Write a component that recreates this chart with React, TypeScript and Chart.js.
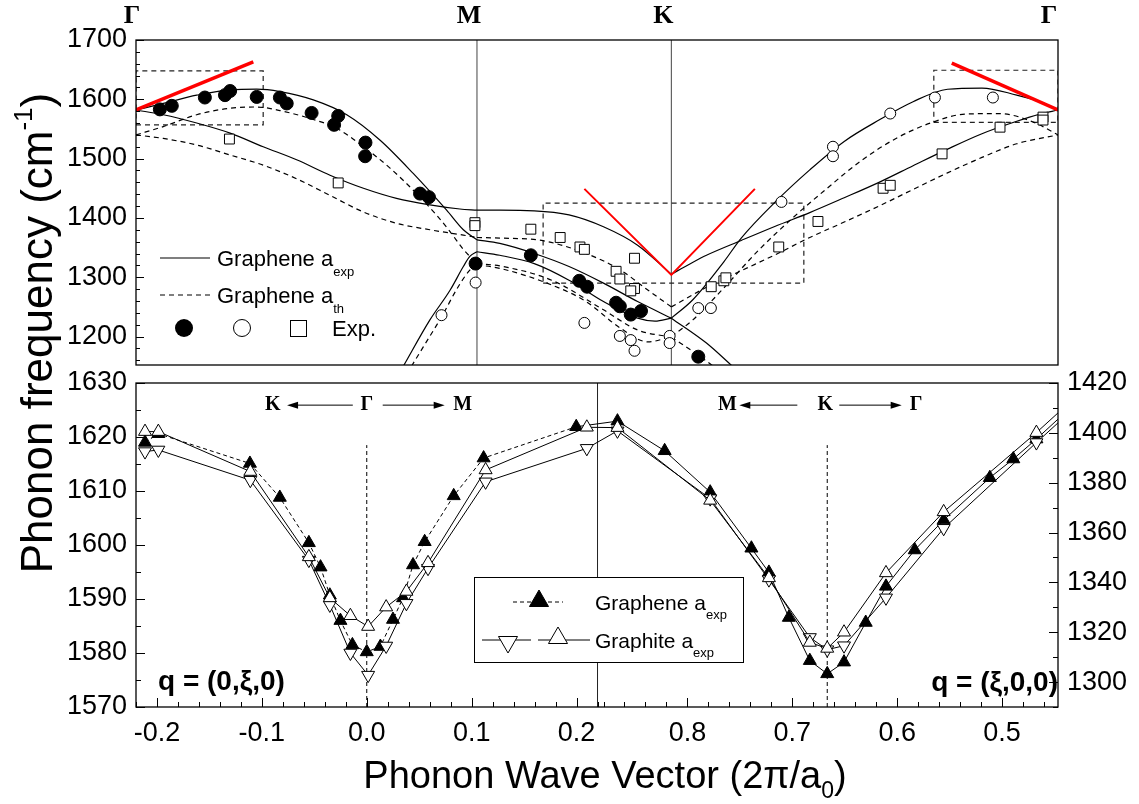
import React, { useEffect, useRef } from 'react';
import { Chart, registerables } from 'chart.js';

Chart.register(...registerables);

const W = 1139;
const H = 804;
const SANS = "'Liberation Sans', Arial, Helvetica, sans-serif";
const SERIF = "'Liberation Serif', 'Times New Roman', serif";
Chart.defaults.font.family = SANS;

// frames of the two panels on the page (layout only)
const TOP_FRAME = { left: 136, top: 40, right: 1058, bottom: 365 };
const BOT_FRAME = { left: 136, top: 383, right: 1058, bottom: 707 };

// ================= TOP PANEL: Γ–M–K–Γ (path coordinate, Γ = 0, M = 1) =================
const PATH_M = 1.0;
const PATH_K = 1.57;
const PATH_END = 2.704;
const TOP_Y_MIN = 1152;
const TOP_Y_MAX = 1700;
const TOP_Y_TICKS = [1200, 1300, 1400, 1500, 1600, 1700];
const TOP_Y_MINOR = 20;
const TOP_POINT_LABELS = ['Γ', 'M', 'K', 'Γ'];
const TOP_POINT_POS = [0, PATH_M, PATH_K, PATH_END];
const TOP_LABEL_SHIFT = [-4, -8, -8, -9];

type P = [number, number];

// Graphene a_exp (solid)
const LO_EXP: P[] = [[0, 1582], [0.08, 1593], [0.178, 1607], [0.276, 1616], [0.354, 1617], [0.422, 1613], [0.52, 1599], [0.618, 1574], [0.716, 1531], [0.813, 1475], [0.911, 1413], [0.96, 1380], [1.0, 1363], [1.067, 1357], [1.168, 1340], [1.27, 1318], [1.371, 1290], [1.471, 1259], [1.57, 1231], [1.673, 1189], [1.749, 1150]];
const TO_EXP: P[] = [[0, 1582], [0.08, 1574], [0.178, 1560], [0.276, 1543], [0.373, 1520], [0.471, 1498], [0.569, 1472], [0.667, 1450], [0.764, 1433], [0.862, 1422], [0.95, 1415], [1.0, 1413], [1.067, 1413], [1.168, 1412], [1.27, 1405], [1.371, 1385], [1.471, 1354], [1.57, 1305], [1.623, 1322], [1.673, 1337], [1.775, 1362], [1.875, 1386], [1.976, 1409], [2.077, 1434], [2.179, 1460], [2.279, 1488], [2.38, 1516], [2.481, 1542], [2.583, 1563], [2.651, 1575], [2.704, 1582]];
const LA_EXP: P[] = [[0.784, 1150], [0.862, 1228], [0.921, 1278], [0.96, 1318], [0.979, 1335], [1.0, 1343], [1.067, 1337], [1.168, 1323], [1.27, 1295], [1.371, 1259], [1.471, 1231], [1.522, 1226], [1.57, 1231], [1.633, 1262], [1.724, 1326], [1.775, 1366], [1.875, 1427], [1.976, 1481], [2.077, 1529], [2.179, 1565], [2.279, 1596], [2.38, 1617], [2.481, 1619], [2.583, 1607], [2.651, 1596], [2.704, 1582]];
// Graphene a_th (dashed)
const LO_TH: P[] = [[0, 1540], [0.08, 1554], [0.178, 1574], [0.276, 1585], [0.354, 1587], [0.422, 1581], [0.52, 1566], [0.589, 1551], [0.667, 1520], [0.745, 1484], [0.823, 1441], [0.881, 1405], [0.921, 1377], [0.96, 1347], [1.0, 1323], [1.067, 1319], [1.219, 1295], [1.371, 1245], [1.471, 1211], [1.57, 1199], [1.648, 1169], [1.693, 1150]];
const TO_TH: P[] = [[0, 1540], [0.08, 1534], [0.178, 1523], [0.276, 1506], [0.373, 1489], [0.471, 1466], [0.569, 1438], [0.667, 1410], [0.764, 1391], [0.862, 1380], [0.96, 1371], [1.0, 1367], [1.067, 1366], [1.189, 1362], [1.32, 1340], [1.421, 1312], [1.502, 1278], [1.57, 1250], [1.673, 1283], [1.775, 1311], [1.875, 1338], [1.976, 1367], [2.077, 1393], [2.179, 1420], [2.279, 1448], [2.38, 1476], [2.481, 1502], [2.583, 1525], [2.704, 1540]];
const LA_TH: P[] = [[0.808, 1150], [0.843, 1183], [0.896, 1233], [0.945, 1284], [0.979, 1312], [1.0, 1321], [1.067, 1315], [1.219, 1287], [1.32, 1259], [1.421, 1214], [1.502, 1191], [1.57, 1200], [1.633, 1228], [1.724, 1282], [1.825, 1345], [1.926, 1400], [2.027, 1450], [2.128, 1497], [2.229, 1534], [2.33, 1560], [2.431, 1575], [2.532, 1576], [2.63, 1562], [2.704, 1540]];

// Experimental points
const EXP_FILLED: P[] = [[0.07, 1583], [0.105, 1589], [0.202, 1603], [0.261, 1607], [0.276, 1614], [0.354, 1604], [0.422, 1603], [0.442, 1593], [0.515, 1577], [0.593, 1572], [0.581, 1557], [0.673, 1527], [0.672, 1504], [0.833, 1441], [0.859, 1435], [0.996, 1323], [1.158, 1337], [1.3, 1294], [1.323, 1284], [1.408, 1257], [1.419, 1251], [1.451, 1237], [1.481, 1243], [1.649, 1166]];
const EXP_OPEN: P[] = [[0.896, 1236], [0.996, 1291], [1.315, 1223], [1.419, 1201], [1.451, 1194], [1.462, 1176], [1.565, 1201], [1.565, 1189], [1.649, 1248], [1.686, 1248], [1.893, 1427], [2.044, 1520], [2.044, 1504], [2.212, 1576], [2.343, 1603], [2.513, 1603]];
const EXP_SQUARE: P[] = [[0.274, 1533], [0.593, 1459], [0.994, 1392], [0.994, 1387], [1.158, 1381], [1.244, 1367], [1.302, 1351], [1.315, 1347], [1.462, 1332], [1.408, 1310], [1.419, 1297], [1.462, 1281], [1.451, 1277], [1.687, 1284], [1.724, 1294], [1.73, 1299], [1.885, 1351], [2.0, 1394], [2.191, 1450], [2.212, 1455], [2.364, 1508], [2.534, 1553], [2.66, 1570], [2.66, 1565]];

// Red slope lines (Kohn anomalies)
const RED_GAMMA_LEFT: P[] = [[0, 1582], [0.344, 1663]];
const RED_K: P[] = [[1.315, 1449], [1.57, 1304], [1.815, 1449]];
const RED_GAMMA_RIGHT: P[] = [[2.3925, 1661], [2.704, 1582]];

// Dashed boxes [x0, x1, f0, f1]
const BOX_GAMMA_LEFT = [0, 0.373, 1557, 1648];
const BOX_K = [1.194, 1.9586, 1290, 1425];
const BOX_GAMMA_RIGHT = [2.3398, 2.704, 1561, 1649];

// ================= BOTTOM PANEL =================
const XI_LEFT_MIN = -0.22;
const XI_LEFT_MAX = 0.22;
const XI_RIGHT_START = 0.8857;
const XI_RIGHT_END = 0.4467;
const XI_K = 0.6667;
const YL_MIN = 1570;
const YL_MAX = 1630;
const YL_TICKS = [1570, 1580, 1590, 1600, 1610, 1620, 1630];
const YR_MIN = 1290;
const YR_MAX = 1420;
const YR_TICKS = [1300, 1320, 1340, 1360, 1380, 1400, 1420];
const X_LEFT_LABELS = [-0.2, -0.1, 0.0, 0.1, 0.2];
const X_RIGHT_LABELS = [0.8, 0.7, 0.6, 0.5];

// q = (0,ξ,0): left half, frequencies on left axis
const GRAPHENE_L_XI = [-0.2114, -0.1987, -0.1114, -0.0829, -0.0552, -0.0441, -0.0352, -0.0251, -0.0137, 0.0, 0.013, 0.025, 0.0346, 0.0441, 0.0552, 0.0829, 0.1114, 0.1997];
const GRAPHENE_L_F = [1619.0, 1620.6, 1615.1, 1608.8, 1600.4, 1595.9, 1590.7, 1586.0, 1581.5, 1580.2, 1581.2, 1586.2, 1590.2, 1596.3, 1600.6, 1609.1, 1616.1, 1621.9];
const GRAPHITE_L_XI = [-0.2114, -0.1987, -0.111, -0.0552, -0.0352, -0.0156, 0.0013, 0.0185, 0.0378, 0.0584, 0.1133, 0.2098];
const GRAPHITE_UP_L_F = [1621.0, 1621.0, 1613.6, 1597.8, 1590.2, 1586.9, 1584.9, 1588.5, 1591.4, 1596.7, 1613.9, 1621.8];
const GRAPHITE_DN_L_F = [1617.3, 1617.6, 1612.0, 1597.2, 1588.9, 1580.0, 1575.9, 1581.3, 1589.2, 1595.7, 1611.7, 1617.9];

// q = (ξ,0,0): right half, frequencies on right axis (last value = line leaving the frame)
const GRAPHENE_R_XI = [0.8667, 0.8217, 0.7783, 0.739, 0.7223, 0.7033, 0.6833, 0.6667, 0.6507, 0.63, 0.6107, 0.5833, 0.5557, 0.5117, 0.4893, 0.4673, 0.4467];
const GRAPHENE_R_F = [1404.7, 1392.8, 1376.2, 1353.7, 1344.0, 1325.9, 1308.6, 1303.3, 1308.0, 1323.9, 1338.4, 1353.0, 1365.0, 1382.0, 1389.5, 1397.5, 1405.5];
const GRAPHITE_R_XI = [0.8667, 0.7783, 0.7223, 0.6833, 0.6667, 0.6507, 0.6107, 0.5557, 0.4673, 0.4467];
const GRAPHITE_UP_R_F = [1402.1, 1372.9, 1341.8, 1315.9, 1313.5, 1320.0, 1343.8, 1368.3, 1400.1, 1408.0];
const GRAPHITE_DN_R_F = [1400.8, 1373.6, 1341.1, 1317.9, 1313.0, 1314.6, 1333.8, 1361.7, 1396.1, 1404.0];

// direction annotations
const DIR_F = 1625.9;
const DIR_TOP_F = 1618.5;
const LEFT_DIR_LABELS = ['K', 'Γ', 'M'];
const LEFT_DIR_XI = [-0.0895, 0, 0.0914];
const LEFT_ARROWS: P[] = [[-0.0133, -0.076], [0.0152, 0.0743]];
const RIGHT_DIR_LABELS = ['M', 'K', 'Γ'];
const RIGHT_DIR_XI = [0.7619, 0.6686, 0.5819];
const RIGHT_ARROWS: P[] = [[0.6952, 0.7505], [0.6552, 0.5957]];

// ---------- helpers ----------
const uLeft = (xi: number) => xi - XI_LEFT_MIN;
const U_DIV = XI_LEFT_MAX - XI_LEFT_MIN;
const uRight = (xi: number) => U_DIV + (XI_RIGHT_START - xi);
const U_MAX = uRight(XI_RIGHT_END);
const rToL = (f: number) => YL_MIN + ((f - YR_MIN) * (YL_MAX - YL_MIN)) / (YR_MAX - YR_MIN);

function bottomSeries(lx: number[], lf: number[], rx: number[], rf: number[]) {
  const a = lx.map((x, i) => ({ x: uLeft(x), y: lf[i], edge: false }));
  const b = rx.map((x, i) => ({ x: uRight(x), y: rToL(rf[i]), edge: Math.abs(x - XI_RIGHT_END) < 1e-6 }));
  return [...a, ...b];
}

function pathSegments(pts: P[]) {
  const cuts = [0, PATH_M, PATH_K, PATH_END];
  const out: P[][] = [];
  for (let i = 0; i < cuts.length - 1; i++) {
    const seg = pts.filter(([x]) => x >= cuts[i] - 1e-6 && x <= cuts[i + 1] + 1e-6);
    if (seg.length > 1) out.push(seg);
  }
  return out;
}

const toXY = (pts: P[]) => pts.map(([x, y]) => ({ x, y }));
const boxPts = (b: number[]): P[] => [[b[0], b[2]], [b[1], b[2]], [b[1], b[3]], [b[0], b[3]], [b[0], b[2]]];

type Part = { t: string; size: number; dy?: number };
function drawParts(ctx: any, parts: Part[], x: number, y: number, align: string, family: string, weight = 'normal') {
  ctx.save();
  ctx.textAlign = 'left';
  ctx.textBaseline = 'alphabetic';
  ctx.fillStyle = '#000';
  const widths = parts.map((p) => {
    ctx.font = `${weight} ${p.size}px ${family}`;
    return ctx.measureText(p.t).width;
  });
  const total = widths.reduce((s, w) => s + w, 0);
  let cx = align === 'left' ? x : align === 'center' ? x - total / 2 : x - total;
  parts.forEach((p, i) => {
    ctx.font = `${weight} ${p.size}px ${family}`;
    ctx.fillText(p.t, cx, y + (p.dy || 0));
    cx += widths[i];
  });
  ctx.restore();
}

function triangle(ctx: any, x: number, y: number, r: number, down: boolean, fill: string) {
  const s = down ? -1 : 1;
  const hw = r * Math.sin((2 * Math.PI) / 3);
  ctx.save();
  ctx.beginPath();
  ctx.moveTo(x, y - s * r);
  ctx.lineTo(x + hw, y + s * r * 0.5);
  ctx.lineTo(x - hw, y + s * r * 0.5);
  ctx.closePath();
  ctx.fillStyle = fill;
  ctx.fill();
  ctx.strokeStyle = '#000';
  ctx.lineWidth = 1;
  ctx.stroke();
  ctx.restore();
}

function hline(ctx: any, x0: number, x1: number, y: number) {
  ctx.beginPath();
  ctx.moveTo(x0, y);
  ctx.lineTo(x1, y);
  ctx.stroke();
}

function arrow(ctx: any, x0: number, x1: number, y: number) {
  const dir = Math.sign(x1 - x0);
  ctx.beginPath();
  ctx.moveTo(x0, y);
  ctx.lineTo(x1 - dir * 6, y);
  ctx.stroke();
  ctx.beginPath();
  ctx.moveTo(x1, y);
  ctx.lineTo(x1 - dir * 11, y - 3.5);
  ctx.lineTo(x1 - dir * 11, y + 3.5);
  ctx.closePath();
  ctx.fill();
}

// ---------- plugins ----------
const topDecor = {
  id: 'topDecor',
  afterDraw(chart: any) {
    const { ctx, chartArea: a, scales } = chart;
    const xs = scales.x;
    const ys = scales.y;
    ctx.save();
    ctx.strokeStyle = '#000';
    ctx.lineWidth = 1.3;
    ctx.strokeRect(a.left, a.top, a.right - a.left, a.bottom - a.top);
    ctx.lineWidth = 1;
    for (let v = Math.ceil(TOP_Y_MIN / TOP_Y_MINOR) * TOP_Y_MINOR; v <= TOP_Y_MAX; v += TOP_Y_MINOR) {
      const yy = Math.round(ys.getPixelForValue(v)) + 0.5;
      hline(ctx, a.left, a.left + (v % 100 === 0 ? 8 : 4), yy);
    }
    // high-symmetry point labels
    ctx.fillStyle = '#000';
    ctx.font = `bold 26px ${SERIF}`;
    ctx.textAlign = 'center';
    ctx.textBaseline = 'middle';
    TOP_POINT_LABELS.forEach((t, i) => ctx.fillText(t, xs.getPixelForValue(TOP_POINT_POS[i]) + TOP_LABEL_SHIFT[i], a.top - 24));

    // legend (top-left inside the panel)
    const lx = a.left;
    const ly = a.top;
    ctx.lineWidth = 1.2;
    hline(ctx, lx + 24, lx + 74, ly + 218);
    drawParts(ctx, [{ t: 'Graphene a', size: 22 }, { t: 'exp', size: 13, dy: 10 }], lx + 81, ly + 226, 'left', SANS);
    ctx.setLineDash([5, 4]);
    hline(ctx, lx + 24, lx + 74, ly + 255);
    ctx.setLineDash([]);
    drawParts(ctx, [{ t: 'Graphene a', size: 22 }, { t: 'th', size: 13, dy: 10 }], lx + 81, ly + 263, 'left', SANS);
    const r3 = ly + 288;
    ctx.beginPath();
    ctx.arc(lx + 48, r3, 9, 0, Math.PI * 2);
    ctx.fillStyle = '#000';
    ctx.fill();
    ctx.beginPath();
    ctx.arc(lx + 106, r3, 8.5, 0, Math.PI * 2);
    ctx.fillStyle = '#fff';
    ctx.fill();
    ctx.lineWidth = 1;
    ctx.stroke();
    ctx.fillRect(lx + 154, r3 - 8, 16, 16);
    ctx.strokeRect(lx + 154.5, r3 - 7.5, 16, 16);
    drawParts(ctx, [{ t: 'Exp.', size: 22 }], lx + 196, r3 + 8, 'left', SANS);

    // y axis title
    ctx.translate(38, 333);
    ctx.rotate(-Math.PI / 2);
    drawParts(ctx, [{ t: 'Phonon frequency (cm', size: 44 }, { t: '-1', size: 26, dy: -20 }, { t: ')', size: 44 }], 0, 14, 'center', SANS);
    ctx.restore();
  },
};

const X_MAJORS = [
  ...X_LEFT_LABELS.map((v) => ({ u: uLeft(v), label: v.toFixed(1) })),
  ...X_RIGHT_LABELS.map((v) => ({ u: uRight(v), label: v.toFixed(1) })),
];

const bottomDecor = {
  id: 'bottomDecor',
  afterDraw(chart: any) {
    const { ctx, chartArea: a, scales } = chart;
    const xs = scales.x;
    const yl = scales.y;
    const yr = scales.y2;
    ctx.save();
    ctx.strokeStyle = '#000';
    ctx.fillStyle = '#000';
    ctx.lineWidth = 1.3;
    ctx.strokeRect(a.left, a.top, a.right - a.left, a.bottom - a.top);
    ctx.lineWidth = 1;
    for (let v = YL_MIN; v <= YL_MAX; v += 5) {
      const yy = Math.round(yl.getPixelForValue(v)) + 0.5;
      hline(ctx, a.left, a.left + (v % 10 === 0 ? 9 : 5), yy);
    }
    for (let v = YR_MIN; v <= YR_MAX; v += 10) {
      const yy = Math.round(yr.getPixelForValue(v)) + 0.5;
      hline(ctx, a.right, a.right - (v % 20 === 0 ? 9 : 5), yy);
    }
    const vtick = (u: number, major: boolean) => {
      const xx = Math.round(xs.getPixelForValue(u)) + 0.5;
      ctx.beginPath();
      ctx.moveTo(xx, a.bottom);
      ctx.lineTo(xx, a.bottom - (major ? 9 : 5));
      ctx.stroke();
    };
    for (let k = -11; k <= 11; k++) vtick(uLeft(k * 0.02), k % 5 === 0);
    for (let k = 44; k >= 23; k--) vtick(uRight(k * 0.02), k % 5 === 0);

    // direction annotations
    const dy = yl.getPixelForValue(DIR_F);
    ctx.font = `bold 20px ${SERIF}`;
    ctx.textAlign = 'center';
    ctx.textBaseline = 'middle';
    LEFT_DIR_LABELS.forEach((t, i) => ctx.fillText(t, xs.getPixelForValue(uLeft(LEFT_DIR_XI[i])), dy));
    RIGHT_DIR_LABELS.forEach((t, i) => ctx.fillText(t, xs.getPixelForValue(uRight(RIGHT_DIR_XI[i])), dy));
    LEFT_ARROWS.forEach(([p0, p1]) => arrow(ctx, xs.getPixelForValue(uLeft(p0)), xs.getPixelForValue(uLeft(p1)), dy));
    RIGHT_ARROWS.forEach(([p0, p1]) => arrow(ctx, xs.getPixelForValue(uRight(p0)), xs.getPixelForValue(uRight(p1)), dy));

    // q labels
    drawParts(ctx, [{ t: 'q = (0,ξ,0)', size: 28 }], a.left + 22, a.bottom - 17, 'left', SANS, 'bold');
    drawParts(ctx, [{ t: 'q = (ξ,0,0)', size: 28 }], a.right, a.bottom - 16, 'right', SANS, 'bold');

    // legend box
    const lx = a.left + 338;
    const ly = a.top + 194;
    ctx.fillStyle = '#fff';
    ctx.fillRect(lx, ly, 269, 85);
    ctx.strokeStyle = '#000';
    ctx.lineWidth = 1;
    ctx.strokeRect(lx + 0.5, ly + 0.5, 269, 85);
    const r1 = ly + 25;
    const r2 = ly + 63;
    ctx.setLineDash([4, 3]);
    hline(ctx, lx + 39, lx + 89, r1);
    ctx.setLineDash([]);
    triangle(ctx, lx + 65, r1 - 1, 11, false, '#000');
    drawParts(ctx, [{ t: 'Graphene a', size: 21 }, { t: 'exp', size: 13, dy: 9 }], lx + 121, r1 + 8, 'left', SANS);
    hline(ctx, lx + 8, lx + 57, r2);
    hline(ctx, lx + 64, lx + 116, r2);
    triangle(ctx, lx + 34, r2 + 2, 11, true, '#fff');
    triangle(ctx, lx + 84, r2 - 2, 11, false, '#fff');
    drawParts(ctx, [{ t: 'Graphite a', size: 21 }, { t: 'exp', size: 13, dy: 9 }], lx + 121, r2 + 8, 'left', SANS);

    // x axis title
    drawParts(ctx, [{ t: 'Phonon Wave Vector (2π/a', size: 38 }, { t: '0', size: 23, dy: 10 }, { t: ')', size: 38 }], (a.left + a.right) / 2 + 8, 788, 'center', SANS);
    ctx.restore();
  },
};

const plainTick = (v: any) => String(v);

// ---------- chart configs ----------
function topConfig(): any {
  const solid = { borderColor: '#000', borderWidth: 1.2, pointRadius: 0, fill: false, cubicInterpolationMode: 'monotone' };
  const dashed = { ...solid, borderDash: [5, 4] };
  const curves: any[] = [];
  [LO_EXP, TO_EXP, LA_EXP].forEach((c) => pathSegments(c).forEach((s) => curves.push({ ...solid, data: toXY(s) })));
  [LO_TH, TO_TH, LA_TH].forEach((c) => pathSegments(c).forEach((s) => curves.push({ ...dashed, data: toXY(s) })));
  const marker = { showLine: false, pointBorderColor: '#000', pointBorderWidth: 1 };
  const red = { borderColor: '#ff0000', pointRadius: 0, tension: 0, fill: false };
  const box = { borderColor: '#222', borderWidth: 1.2, borderDash: [5, 4], pointRadius: 0, tension: 0, fill: false };
  const vline = { borderColor: '#444', borderWidth: 1, pointRadius: 0, tension: 0, fill: false };
  return {
    type: 'line',
    data: {
      datasets: [
        { ...marker, data: toXY(EXP_SQUARE), pointStyle: 'rect', pointRadius: 7, pointBackgroundColor: '#fff' },
        { ...marker, data: toXY(EXP_OPEN), pointStyle: 'circle', pointRadius: 5.5, pointBackgroundColor: '#fff' },
        { ...marker, data: toXY(EXP_FILLED), pointStyle: 'circle', pointRadius: 6.5, pointBackgroundColor: '#000' },
        { ...red, data: toXY(RED_GAMMA_LEFT), borderWidth: 3.5 },
        { ...red, data: toXY(RED_GAMMA_RIGHT), borderWidth: 3.5 },
        { ...red, data: toXY(RED_K), borderWidth: 2 },
        ...curves,
        { ...box, data: toXY(boxPts(BOX_GAMMA_LEFT)) },
        { ...box, data: toXY(boxPts(BOX_K)) },
        { ...box, data: toXY(boxPts(BOX_GAMMA_RIGHT)) },
        { ...vline, data: [{ x: PATH_M, y: TOP_Y_MIN }, { x: PATH_M, y: TOP_Y_MAX }] },
        { ...vline, data: [{ x: PATH_K, y: TOP_Y_MIN }, { x: PATH_K, y: TOP_Y_MAX }] },
      ],
    },
    options: {
      responsive: false,
      animation: false,
      events: [],
      layout: { padding: { left: 0, top: TOP_FRAME.top, right: W - TOP_FRAME.right, bottom: H - TOP_FRAME.bottom } },
      plugins: { legend: { display: false }, tooltip: { enabled: false } },
      scales: {
        x: { type: 'linear', min: 0, max: PATH_END, display: false },
        y: {
          type: 'linear',
          min: TOP_Y_MIN,
          max: TOP_Y_MAX,
          afterFit: (s: any) => { s.width = TOP_FRAME.left; },
          afterBuildTicks: (s: any) => { s.ticks = TOP_Y_TICKS.map((v) => ({ value: v })); },
          ticks: { font: { family: SANS, size: 27 }, color: '#000', padding: 9, callback: plainTick },
          grid: { display: false, drawTicks: false },
          border: { display: false },
        },
      },
    },
    plugins: [topDecor],
  };
}

function bottomConfig(): any {
  const tri = { borderColor: '#000', borderWidth: 1, pointStyle: 'triangle', pointBorderColor: '#000', pointBorderWidth: 1, tension: 0, fill: false };
  const rad = (c: any) => (c.raw && c.raw.edge ? 0 : 7.5);
  const vdash = { borderColor: '#000', borderWidth: 1, borderDash: [4, 3], pointRadius: 0, tension: 0, fill: false };
  return {
    type: 'line',
    data: {
      datasets: [
        { ...tri, data: bottomSeries(GRAPHITE_L_XI, GRAPHITE_UP_L_F, GRAPHITE_R_XI, GRAPHITE_UP_R_F), pointRadius: rad, pointBackgroundColor: '#fff' },
        { ...tri, data: bottomSeries(GRAPHITE_L_XI, GRAPHITE_DN_L_F, GRAPHITE_R_XI, GRAPHITE_DN_R_F), pointRadius: rad, pointRotation: 180, pointBackgroundColor: '#fff' },
        {
          ...tri,
          data: bottomSeries(GRAPHENE_L_XI, GRAPHENE_L_F, GRAPHENE_R_XI, GRAPHENE_R_F),
          pointRadius: rad,
          pointBackgroundColor: '#000',
          segment: { borderDash: (c: any) => (c.p1.parsed.x <= U_DIV + 1e-9 ? [4, 3] : []) },
        },
        { ...vdash, data: [{ x: uLeft(0), y: YL_MIN }, { x: uLeft(0), y: DIR_TOP_F }] },
        { ...vdash, data: [{ x: uRight(XI_K), y: YL_MIN }, { x: uRight(XI_K), y: DIR_TOP_F }] },
        { borderColor: '#222', borderWidth: 1, pointRadius: 0, fill: false, data: [{ x: U_DIV, y: YL_MIN }, { x: U_DIV, y: YL_MAX }] },
      ],
    },
    options: {
      responsive: false,
      animation: false,
      events: [],
      layout: { padding: { left: 0, top: BOT_FRAME.top, right: 0, bottom: 0 } },
      plugins: { legend: { display: false }, tooltip: { enabled: false } },
      scales: {
        x: {
          type: 'linear',
          min: 0,
          max: U_MAX,
          afterFit: (s: any) => { s.height = H - BOT_FRAME.bottom; },
          afterBuildTicks: (s: any) => { s.ticks = X_MAJORS.map((m) => ({ value: m.u })); },
          ticks: {
            autoSkip: false,
            maxRotation: 0,
            minRotation: 0,
            padding: 10,
            font: { family: SANS, size: 27 },
            color: '#000',
            callback: (_v: any, i: number) => (X_MAJORS[i] ? X_MAJORS[i].label : ''),
          },
          grid: { display: false, drawTicks: false },
          border: { display: false },
        },
        y: {
          type: 'linear',
          position: 'left',
          min: YL_MIN,
          max: YL_MAX,
          afterFit: (s: any) => { s.width = BOT_FRAME.left; },
          afterBuildTicks: (s: any) => { s.ticks = YL_TICKS.map((v) => ({ value: v })); },
          ticks: { font: { family: SANS, size: 27 }, color: '#000', padding: 9, callback: plainTick },
          grid: { display: false, drawTicks: false },
          border: { display: false },
        },
        y2: {
          type: 'linear',
          position: 'right',
          min: YR_MIN,
          max: YR_MAX,
          afterFit: (s: any) => { s.width = W - BOT_FRAME.right; },
          afterBuildTicks: (s: any) => { s.ticks = YR_TICKS.map((v) => ({ value: v })); },
          ticks: { font: { family: SANS, size: 27 }, color: '#000', padding: 9, callback: plainTick },
          grid: { display: false, drawTicks: false },
          border: { display: false },
        },
      },
    },
    plugins: [bottomDecor],
  };
}

export default function App() {
  const topRef = useRef<HTMLCanvasElement>(null);
  const botRef = useRef<HTMLCanvasElement>(null);
  useEffect(() => {
    const top = new Chart(topRef.current as HTMLCanvasElement, topConfig());
    const bot = new Chart(botRef.current as HTMLCanvasElement, bottomConfig());
    return () => {
      top.destroy();
      bot.destroy();
    };
  }, []);
  const cs: React.CSSProperties = { position: 'absolute', left: 0, top: 0, width: W, height: H };
  return (
    <div style={{ position: 'absolute', left: 0, top: 0, width: W, height: H, background: '#fff' }}>
      <canvas ref={topRef} width={W} height={H} style={cs} />
      <canvas ref={botRef} width={W} height={H} style={cs} />
    </div>
  );
}
